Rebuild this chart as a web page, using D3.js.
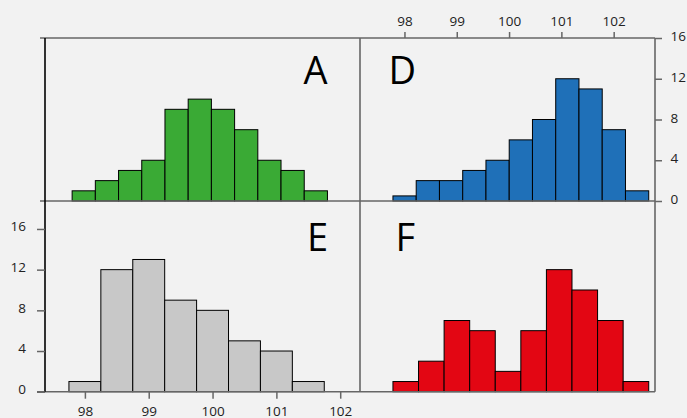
<!DOCTYPE html>
<meta charset="utf-8">
<style>
body { margin: 0; background: #f2f2f2; }
svg { display: block; background: #f2f2f2; font-family: "Open Sans", sans-serif; }
.bar { stroke: #000; stroke-width: 1; }
.frame { stroke: #666; stroke-width: 1.6; fill: none; }
.axis text { font-size: 13.5px; fill: #222; font-family: "Open Sans", sans-serif; }
.axis line { stroke: #666; stroke-width: 1.5; }
.letter { font-size: 38px; fill: #000; }
</style>
<svg width="687" height="418"></svg>
<script src="https://d3js.org/d3.v7.min.js"></script>
<script>

// histogram counts per panel, with the range that the bins cover
var countsA = [1, 2, 3, 4, 9, 10, 9, 7, 4, 3, 1];
var rangeA = [97.8, 101.8];
var countsD = [0.5, 2, 2, 3, 4, 6, 8, 12, 11, 7, 1];
var rangeD = [97.78, 102.67];
var countsE = [1, 12, 13, 9, 8, 5, 4, 1];
var rangeE = [97.75, 101.75];
var countsF = [1, 3, 7, 6, 2, 6, 12, 10, 7, 1];
var rangeF = [97.78, 102.67];

var xTicks = [98, 99, 100, 101, 102];
var yTicks = [0, 4, 8, 12, 16];

var svg = d3.select("svg");

// panel geometry
var pLeft = 45, pMid = 360, pRight = 655;
var pTop = 38, pRow = 201, pBottom = 391.7;

var xLeft = d3.scaleLinear().domain([97.375, 102.31]).range([pLeft, pMid]);
var xRight = d3.scaleLinear().domain([97.15, 102.79]).range([pMid, pRight]);
var yTop = d3.scaleLinear().domain([0, 16]).range([pRow, pTop]);
var yBot = d3.scaleLinear().domain([0, 18.75]).range([pBottom, pRow]);

function bins(counts, r) {
  var w = (r[1] - r[0]) / counts.length;
  return counts.map(function(c, i) {
    return {x0: r[0] + i * w, x1: r[0] + (i + 1) * w, n: c};
  });
}

function hist(counts, r, x, y, color) {
  svg.append("g")
    .selectAll("rect")
    .data(bins(counts, r))
    .enter().append("rect")
      .attr("class", "bar")
      .attr("x", function(d) { return x(d.x0); })
      .attr("width", function(d) { return x(d.x1) - x(d.x0); })
      .attr("y", function(d) { return y(d.n); })
      .attr("height", function(d) { return y(0) - y(d.n); })
      .attr("fill", color);
}

hist(countsA, rangeA, xLeft, yTop, "#3aaa35");
hist(countsD, rangeD, xRight, yTop, "#1f70b8");
hist(countsE, rangeE, xLeft, yBot, "#c8c8c8");
hist(countsF, rangeF, xRight, yBot, "#e30613");

// panel frames
var frame = svg.append("g");
function hline(x1, x2, y) {
  frame.append("line").attr("class", "frame").attr("x1", x1).attr("x2", x2).attr("y1", y).attr("y2", y);
}
function vline(x, y1, y2) {
  return frame.append("line").attr("class", "frame").attr("x1", x).attr("x2", x).attr("y1", y1).attr("y2", y2);
}
hline(40, pRight, pTop);
hline(40, pRight, pRow);
hline(37, pRight, pBottom);
vline(pMid, pTop, pBottom);
vline(pRight, pTop, pBottom);
vline(pLeft, pTop, pBottom).style("stroke", "#000");

var fmt = d3.format("d");

// axes
svg.append("g")
    .attr("class", "axis")
    .attr("transform", "translate(0," + pBottom + ")")
    .call(d3.axisBottom(xLeft).tickValues(xTicks).tickFormat(fmt).tickSize(7).tickPadding(8))
  .call(function(g) { g.select(".domain").remove(); });

svg.append("g")
    .attr("class", "axis")
    .attr("transform", "translate(0," + pTop + ")")
    .call(d3.axisTop(xRight).tickValues(xTicks).tickFormat(fmt).tickSize(6).tickPadding(6))
  .call(function(g) { g.select(".domain").remove(); });

svg.append("g")
    .attr("class", "axis")
    .attr("transform", "translate(" + pLeft + ",0)")
    .call(d3.axisLeft(yBot).tickValues(yTicks).tickFormat(fmt).tickSize(8).tickPadding(11))
  .call(function(g) {
    g.select(".domain").remove();
    g.selectAll("text").attr("dy", "0.13em");
  });

svg.append("g")
    .attr("class", "axis")
    .attr("transform", "translate(" + pRight + ",0)")
    .call(d3.axisRight(yTop).tickValues(yTicks).tickFormat(fmt).tickSize(7).tickPadding(8.5))
  .call(function(g) {
    g.select(".domain").remove();
    g.selectAll("text").attr("dy", "0.2em");
  });

// panel letters
svg.append("text").attr("class", "letter").attr("x", 327.5).attr("y", 84).attr("text-anchor", "end").text("A");
svg.append("text").attr("class", "letter").attr("x", 388.5).attr("y", 84).text("D");
svg.append("text").attr("class", "letter").attr("x", 328).attr("y", 250.5).attr("text-anchor", "end").text("E");
svg.append("text").attr("class", "letter").attr("x", 395.5).attr("y", 250.5).text("F");

</script>
